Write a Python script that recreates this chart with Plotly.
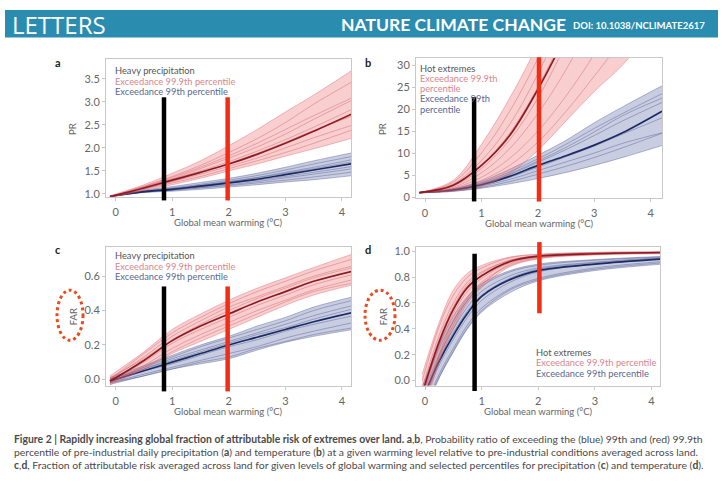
import plotly.graph_objects as go

W_PX, H_PX = 725, 482

# ---------------- data ----------------
WARM = [-0.1, 0.5, 1.0, 1.5, 2.0, 2.5, 3.0, 3.5, 4.2]          # panels a, b, c
WARM_D = [-0.05, 0.25, 0.5, 0.75, 1.0, 1.5, 2.0, 3.0, 4.2]     # panel d

# Panel a: PR, heavy precipitation
A_RED_MEAN = [0.94, 1.13, 1.30, 1.47, 1.65, 1.86, 2.10, 2.36, 2.75]
A_RED_UP = [0.96, 1.20, 1.45, 1.72, 2.05, 2.40, 2.78, 3.15, 3.70]
A_RED_LO = [0.92, 1.08, 1.20, 1.34, 1.50, 1.65, 1.82, 1.98, 2.22]
A_RED_MEMBERS = [
    [0.95, 1.17, 1.38, 1.62, 1.90, 2.20, 2.55, 2.95, 3.45],
    [0.94, 1.15, 1.33, 1.55, 1.78, 2.02, 2.30, 2.62, 3.05],
    [0.93, 1.11, 1.27, 1.43, 1.60, 1.78, 2.00, 2.22, 2.50],
    [0.93, 1.10, 1.24, 1.38, 1.55, 1.72, 1.90, 2.10, 2.40],
    [0.94, 1.14, 1.32, 1.50, 1.70, 1.93, 2.18, 2.45, 2.85],
    [0.95, 1.12, 1.28, 1.46, 1.66, 1.88, 2.12, 2.38, 2.70],
    [0.94, 1.16, 1.36, 1.58, 1.83, 2.10, 2.40, 2.70, 3.10],
]
A_BLUE_MEAN = [0.95, 1.05, 1.10, 1.17, 1.24, 1.32, 1.42, 1.52, 1.66]
A_BLUE_UP = [0.96, 1.08, 1.16, 1.25, 1.34, 1.45, 1.58, 1.72, 1.90]
A_BLUE_LO = [0.94, 1.03, 1.06, 1.10, 1.15, 1.20, 1.26, 1.31, 1.40]
A_BLUE_MEMBERS = [
    [0.95, 1.06, 1.13, 1.21, 1.30, 1.40, 1.52, 1.65, 1.82],
    [0.95, 1.05, 1.11, 1.18, 1.26, 1.35, 1.45, 1.55, 1.70],
    [0.94, 1.04, 1.09, 1.14, 1.20, 1.27, 1.35, 1.43, 1.55],
    [0.94, 1.04, 1.08, 1.13, 1.18, 1.24, 1.30, 1.37, 1.48],
    [0.95, 1.06, 1.12, 1.19, 1.27, 1.36, 1.47, 1.58, 1.75],
    [0.95, 1.05, 1.10, 1.16, 1.23, 1.30, 1.38, 1.47, 1.60],
]

# Panel b: PR, hot extremes
B_RED_MEAN = [1.0, 2.7, 7.2, 14.0, 24.5, 37.0, 52.0, 70.0, 98.0]
B_RED_UP = [1.0, 3.8, 12.0, 22.5, 35.0, 52.0, 72.0, 96.0, 135.0]
B_RED_LO = [1.0, 1.3, 2.4, 5.4, 10.6, 17.3, 24.0, 30.0, 41.0]
B_RED_MEMBERS = [
    [1.0, 3.4, 10.0, 19.5, 31.5, 46.0, 64.0, 85.0, 116.0],
    [1.0, 3.0, 8.3, 16.5, 28.0, 42.0, 60.0, 80.0, 108.0],
    [1.0, 2.5, 6.5, 13.0, 22.5, 35.0, 50.0, 68.0, 95.0],
    [1.0, 2.2, 5.5, 11.0, 19.0, 29.0, 41.0, 56.0, 80.0],
    [1.0, 2.0, 4.5, 8.8, 15.0, 23.0, 32.5, 44.0, 62.0],
    [1.0, 1.8, 3.8, 7.2, 12.5, 19.5, 27.5, 36.0, 50.0],
    [1.0, 2.6, 7.2, 14.5, 25.0, 38.0, 54.0, 72.0, 100.0],
]
B_BLUE_MEAN = [1.0, 1.6, 2.8, 4.7, 7.2, 9.4, 11.8, 14.6, 19.5]
B_BLUE_UP = [1.0, 1.9, 3.6, 6.3, 9.5, 12.9, 16.9, 20.5, 25.3]
B_BLUE_LO = [1.0, 1.3, 2.0, 3.0, 4.2, 5.6, 7.2, 9.0, 11.7]
B_BLUE_MEMBERS = [
    [1.0, 1.8, 3.3, 5.7, 8.7, 12.0, 15.6, 19.0, 23.5],
    [1.0, 1.7, 3.0, 5.1, 7.9, 10.8, 14.0, 17.3, 21.5],
    [1.0, 1.6, 2.7, 4.5, 6.8, 9.2, 11.6, 14.3, 18.0],
    [1.0, 1.5, 2.5, 4.0, 6.0, 8.0, 10.0, 12.2, 14.6],
    [1.0, 1.4, 2.2, 3.5, 5.2, 7.0, 9.0, 11.2, 14.5],
    [1.0, 1.7, 3.1, 5.3, 8.2, 11.3, 14.8, 18.5, 22.5],
]

# Panel c: FAR, heavy precipitation
C_RED_MEAN = [-0.01, 0.11, 0.225, 0.31, 0.38, 0.45, 0.51, 0.57, 0.63]
C_RED_UP = [0.02, 0.16, 0.29, 0.38, 0.46, 0.53, 0.59, 0.65, 0.73]
C_RED_LO = [-0.03, 0.06, 0.15, 0.22, 0.29, 0.36, 0.43, 0.49, 0.55]
C_RED_MEMBERS = [
    [0.0, 0.15, 0.27, 0.36, 0.44, 0.51, 0.57, 0.63, 0.70],
    [0.0, 0.13, 0.25, 0.34, 0.42, 0.48, 0.54, 0.60, 0.66],
    [-0.01, 0.10, 0.21, 0.29, 0.36, 0.43, 0.49, 0.55, 0.61],
    [-0.02, 0.08, 0.18, 0.26, 0.33, 0.40, 0.46, 0.52, 0.58],
    [-0.02, 0.07, 0.16, 0.24, 0.31, 0.38, 0.45, 0.51, 0.56],
    [0.01, 0.12, 0.23, 0.32, 0.40, 0.47, 0.53, 0.59, 0.65],
]
C_BLUE_MEAN = [-0.01, 0.05, 0.10, 0.15, 0.20, 0.245, 0.29, 0.335, 0.39]
C_BLUE_UP = [0.01, 0.08, 0.14, 0.20, 0.25, 0.31, 0.36, 0.42, 0.48]
C_BLUE_LO = [-0.03, 0.02, 0.06, 0.09, 0.12, 0.17, 0.215, 0.25, 0.29]
C_BLUE_MEMBERS = [
    [0.0, 0.07, 0.13, 0.19, 0.24, 0.29, 0.34, 0.40, 0.46],
    [0.0, 0.06, 0.12, 0.17, 0.22, 0.27, 0.32, 0.37, 0.43],
    [-0.01, 0.05, 0.09, 0.14, 0.19, 0.23, 0.28, 0.32, 0.37],
    [-0.02, 0.03, 0.07, 0.11, 0.15, 0.19, 0.24, 0.28, 0.33],
    [-0.02, 0.02, 0.06, 0.10, 0.13, 0.18, 0.22, 0.26, 0.30],
    [0.0, 0.06, 0.11, 0.16, 0.21, 0.26, 0.30, 0.35, 0.41],
]

# Panel d: FAR, hot extremes
D_RED_MEAN = [-0.10, 0.30, 0.55, 0.72, 0.81, 0.92, 0.96, 0.98, 0.99]
D_RED_UP = [0.05, 0.45, 0.70, 0.83, 0.89, 0.955, 0.975, 0.99, 0.995]
D_RED_LO = [-0.30, 0.15, 0.40, 0.60, 0.72, 0.88, 0.94, 0.97, 0.98]
D_RED_MEMBERS = [
    [0.0, 0.42, 0.66, 0.80, 0.87, 0.95, 0.975, 0.99, 0.995],
    [-0.05, 0.35, 0.60, 0.76, 0.84, 0.93, 0.965, 0.985, 0.99],
    [-0.12, 0.27, 0.52, 0.69, 0.79, 0.91, 0.955, 0.98, 0.99],
    [-0.20, 0.20, 0.46, 0.64, 0.76, 0.89, 0.945, 0.975, 0.985],
    [-0.25, 0.18, 0.43, 0.62, 0.74, 0.90, 0.95, 0.975, 0.985],
    [-0.08, 0.32, 0.57, 0.74, 0.83, 0.93, 0.965, 0.985, 0.99],
]
D_BLUE_MEAN = [-0.15, 0.15, 0.35, 0.52, 0.65, 0.78, 0.85, 0.90, 0.94]
D_BLUE_UP = [-0.05, 0.28, 0.50, 0.65, 0.75, 0.85, 0.90, 0.935, 0.96]
D_BLUE_LO = [-0.30, 0.02, 0.22, 0.40, 0.53, 0.68, 0.77, 0.85, 0.90]
D_BLUE_MEMBERS = [
    [-0.08, 0.25, 0.46, 0.62, 0.73, 0.84, 0.89, 0.93, 0.955],
    [-0.12, 0.20, 0.40, 0.57, 0.69, 0.81, 0.87, 0.915, 0.95],
    [-0.18, 0.12, 0.32, 0.49, 0.62, 0.76, 0.84, 0.90, 0.94],
    [-0.25, 0.05, 0.25, 0.43, 0.56, 0.71, 0.79, 0.87, 0.92],
    [-0.28, 0.03, 0.23, 0.41, 0.54, 0.70, 0.78, 0.86, 0.91],
    [-0.15, 0.17, 0.37, 0.54, 0.66, 0.79, 0.86, 0.91, 0.945],
]

# Highlight bars (warming level, bottom, top) per panel
BAR_BLACK = {"a": (0.855, 0.86, 3.10), "b": (0.87, -1.0, 22.7),
             "c": (0.855, -0.07, 0.54), "d": (0.875, -0.08, 0.98)}
BAR_RED = {"a": (1.98, 0.86, 3.10), "b": (2.02, -1.0, 31.8),
           "c": (1.98, -0.07, 0.54), "d": (2.02, 0.52, 1.07)}

X_TICKS = [0, 1, 2, 3, 4]
Y_TICKS = {"a": [1.0, 1.5, 2.0, 2.5, 3.0, 3.5], "b": [0, 5, 10, 15, 20, 25, 30],
           "c": [0.0, 0.2, 0.4, 0.6], "d": [0.0, 0.2, 0.4, 0.6, 0.8, 1.0]}
Y_TITLES = {"a": "PR", "b": "PR", "c": "FAR", "d": "FAR"}
X_TITLE = "Global mean warming (°C)"

LEGENDS = {
    "a": ["Heavy precipitation", "Exceedance 99.9th percentile", "Exceedance 99th percentile"],
    "b": ["Hot extremes", "Exceedance 99.9th", "percentile", "Exceedance 99th", "percentile"],
    "c": ["Heavy precipitation", "Exceedance 99.9th percentile", "Exceedance 99th percentile"],
    "d": ["Hot extremes", "Exceedance 99.9th percentile", "Exceedance 99th percentile"],
}
LEGEND_ROLES = {"a": ["k", "r", "b"], "b": ["k", "r", "r", "b", "b"],
                "c": ["k", "r", "b"], "d": ["k", "r", "b"]}

# ---------------- layout geometry (pixels) ----------------
PANELS = {
    "a": dict(px=(106, 351, 57, 197), xr=[-0.17, 4.16], yr=[0.94, 3.93], fmt=".1f"),
    "b": dict(px=(416, 662, 56, 198), xr=[-0.16, 4.20], yr=[-0.15, 31.6], fmt="d"),
    "c": dict(px=(106, 351, 248, 389), xr=[-0.17, 4.16], yr=[-0.036, 0.77], fmt=".1f"),
    "d": dict(px=(416, 660, 248, 389), xr=[-0.16, 4.15], yr=[-0.038, 1.033], fmt=".1f"),
}
LEG_POS = {"a": (113, 69, 10.6), "b": (418, 67, 10.2), "c": (113, 257, 10.6), "d": (534, 355, 10.8)}

RED_FILL = "rgba(236,120,122,0.36)"
RED_EDGE = "rgba(215,95,100,0.55)"
RED_MEMBER = "rgba(205,70,80,0.6)"
RED_MEAN = "#8e1b22"
BLUE_FILL = "rgba(92,102,165,0.33)"
BLUE_EDGE = "rgba(70,80,140,0.55)"
BLUE_MEMBER = "rgba(55,68,125,0.6)"
BLUE_MEAN = "#1c2b66"
TXT = {"k": "#555555", "r": "#d8868c", "b": "#5a6891"}
FONT = "Lato, 'Open Sans', sans-serif"

fig = go.Figure()


def px_x(v):
    return v / W_PX


def px_y(v):
    return 1 - v / H_PX


def add_group(ax, xs, lo, up, mean, members, fill, edge, member_col, mean_col):
    xa, ya = ("x", "y") if ax == 1 else ("x%d" % ax, "y%d" % ax)
    common = dict(xaxis=xa, yaxis=ya, hoverinfo="skip", showlegend=False, mode="lines")
    fig.add_trace(go.Scatter(x=xs, y=lo, line=dict(color=edge, width=0.7, shape="spline"), **common))
    fig.add_trace(go.Scatter(x=xs, y=up, fill="tonexty", fillcolor=fill,
                             line=dict(color=edge, width=0.7, shape="spline"), **common))
    for m in members:
        fig.add_trace(go.Scatter(x=xs, y=m, line=dict(color=member_col, width=0.6, shape="spline"), **common))
    fig.add_trace(go.Scatter(x=xs, y=mean, line=dict(color=mean_col, width=1.7, shape="spline"), **common))


DATA = {
    "a": (WARM, (A_BLUE_LO, A_BLUE_UP, A_BLUE_MEAN, A_BLUE_MEMBERS), (A_RED_LO, A_RED_UP, A_RED_MEAN, A_RED_MEMBERS)),
    "b": (WARM, (B_BLUE_LO, B_BLUE_UP, B_BLUE_MEAN, B_BLUE_MEMBERS), (B_RED_LO, B_RED_UP, B_RED_MEAN, B_RED_MEMBERS)),
    "c": (WARM, (C_BLUE_LO, C_BLUE_UP, C_BLUE_MEAN, C_BLUE_MEMBERS), (C_RED_LO, C_RED_UP, C_RED_MEAN, C_RED_MEMBERS)),
    "d": (WARM_D, (D_BLUE_LO, D_BLUE_UP, D_BLUE_MEAN, D_BLUE_MEMBERS), (D_RED_LO, D_RED_UP, D_RED_MEAN, D_RED_MEMBERS)),
}

shapes = []
annotations = []
layout = {}

for i, key in enumerate(["a", "b", "c", "d"], start=1):
    p = PANELS[key]
    l, r, t, b = p["px"]
    xs, blue, red = DATA[key]
    add_group(i, xs, *blue, BLUE_FILL, BLUE_EDGE, BLUE_MEMBER, BLUE_MEAN)
    add_group(i, xs, *red, RED_FILL, RED_EDGE, RED_MEMBER, RED_MEAN)

    sfx = "" if i == 1 else str(i)
    axis_common = dict(showline=True, linecolor="#c8c8c8", linewidth=1, mirror=True,
                       ticks="outside", ticklen=3, tickcolor="#c8c8c8", showgrid=False,
                       zeroline=False, tickfont=dict(family=FONT, size=11, color="#666666"))
    layout["xaxis" + sfx] = dict(domain=[px_x(l), px_x(r)], range=p["xr"], anchor="y" + sfx,
                                 tickvals=X_TICKS, ticklabelstandoff=2, **axis_common)
    layout["yaxis" + sfx] = dict(domain=[px_y(b), px_y(t)], range=p["yr"], anchor="x" + sfx,
                                 tickvals=Y_TICKS[key], tickformat=p["fmt"], **axis_common)

    def fx(v, rr=p["xr"]):
        return (v - rr[0]) / (rr[1] - rr[0])

    def fy(v, rr=p["yr"]):
        return (v - rr[0]) / (rr[1] - rr[0])

    for bar, col in ((BAR_BLACK[key], "#000000"), (BAR_RED[key], "#f22d14")):
        w, y0, y1 = bar
        shapes.append(dict(type="line", xref="x%s domain" % sfx, yref="y%s domain" % sfx,
                           x0=fx(w), x1=fx(w), y0=fy(y0), y1=fy(y1),
                           line=dict(color=col, width=4.5), layer="above"))

    # panel letter
    annotations.append(dict(text="<b>%s</b>" % key, xref="paper", yref="paper",
                            x=px_x(l - 53), y=px_y(t + 4 if key in "ab" else t + 3),
                            xanchor="left", yanchor="middle", showarrow=False,
                            font=dict(family=FONT, size=11, color="#222222")))
    # axis titles
    annotations.append(dict(text=X_TITLE, xref="paper", yref="paper",
                            x=px_x((l + r) / 2), y=px_y(b + 26), xanchor="center", yanchor="middle",
                            showarrow=False, font=dict(family=FONT, size=9.5, color="#666666")))
    annotations.append(dict(text=Y_TITLES[key], xref="paper", yref="paper", textangle=-90,
                            x=px_x(l - 33), y=px_y((t + b) / 2 + 1), xanchor="center", yanchor="middle",
                            showarrow=False, font=dict(family=FONT, size=9.5, color="#666666")))
    # in-panel legend text
    lx, ly, step = LEG_POS[key]
    for j, (txt, role) in enumerate(zip(LEGENDS[key], LEGEND_ROLES[key])):
        annotations.append(dict(text=txt, xref="paper", yref="paper", x=px_x(lx), y=px_y(ly + j * step),
                                xanchor="left", yanchor="middle", showarrow=False,
                                font=dict(family=FONT, size=9.3, color=TXT[role])))

# hand-drawn circles around FAR labels
for (x0, x1, y0, y1) in [(57, 83, 292, 343), (365, 395, 292, 343)]:
    shapes.append(dict(type="circle", xref="paper", yref="paper",
                       x0=px_x(x0), x1=px_x(x1), y0=px_y(y1), y1=px_y(y0),
                       line=dict(color="#ea4a1e", width=3, dash="dot")))

# header band
shapes.append(dict(type="rect", xref="paper", yref="paper", x0=px_x(5), x1=px_x(718),
                   y0=px_y(35), y1=px_y(7), fillcolor="#2a8db0", line=dict(width=0), layer="below"))
annotations.append(dict(text="LETTERS", xref="paper", yref="paper", x=px_x(10), y=px_y(21.5),
                        xanchor="left", yanchor="middle", showarrow=False,
                        font=dict(family="'Open Sans', Lato, sans-serif", size=24, color="#ffffff")))
annotations.append(dict(text="<b>NATURE CLIMATE CHANGE</b>", xref="paper", yref="paper", x=px_x(568),
                        y=px_y(22), xanchor="right", yanchor="middle", showarrow=False,
                        font=dict(family="Lato, sans-serif", size=17.5, color="#ffffff")))
annotations.append(dict(text="<b>DOI: 10.1038/NCLIMATE2617</b>", xref="paper", yref="paper", x=px_x(571),
                        y=px_y(23), xanchor="left", yanchor="middle", showarrow=False,
                        font=dict(family="Lato, sans-serif", size=9.5, color="#ffffff")))

# caption
CAPTION = [
    "<b>Figure 2 | Rapidly increasing global fraction of attributable risk of extremes over land. a</b>,<b>b</b>, "
    "Probability ratio of exceeding the (blue) 99th and (red) 99.9th",
    "percentile of pre-industrial daily precipitation (<b>a</b>) and temperature (<b>b</b>) at a given warming "
    "level relative to pre-industrial conditions averaged across land.",
    "<b>c</b>,<b>d</b>, Fraction of attributable risk averaged across land for given levels of global warming and "
    "selected percentiles for precipitation (<b>c</b>) and temperature (<b>d</b>).",
]
for k, line in enumerate(CAPTION):
    annotations.append(dict(text=line, xref="paper", yref="paper", x=px_x(12), y=px_y(443.3 + k * 13.3),
                            xanchor="left", yanchor="middle", showarrow=False,
                            font=dict(family="Lato, sans-serif", size=10.4, color="#4a4a4a")))

fig.update_layout(width=W_PX, height=H_PX, margin=dict(l=0, r=0, t=0, b=0),
                  paper_bgcolor="#ffffff", plot_bgcolor="#ffffff", showlegend=False,
                  shapes=shapes, annotations=annotations, **layout)

fig.write_html("out.html", config={"displayModeBar": False},
               post_script="document.body.style.margin='0';")
